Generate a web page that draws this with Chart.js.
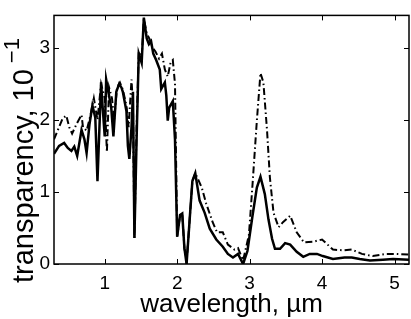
<!DOCTYPE html>
<html>
<head>
<meta charset="utf-8">
<script src="https://cdn.jsdelivr.net/npm/chart.js"></script>
<style>
  html, body { margin: 0; padding: 0; background: #fff; }
  #wrap { width: 411px; height: 319px; }
</style>
</head>
<body>
<div id="wrap"><canvas id="chart"></canvas></div>
<script>
// wavelength (um) and transparency (x10^-1)
const xTicks = [1, 2, 3, 4, 5];
const yTicks = [0, 1, 2, 3];

const solidX = [0.30, 0.37, 0.44, 0.49, 0.54, 0.58, 0.62, 0.68, 0.72, 0.75, 0.79, 0.83, 0.87, 0.90, 0.95, 0.97,
  1.00, 1.02, 1.05, 1.09, 1.12, 1.16, 1.20, 1.23, 1.25, 1.30, 1.32, 1.34, 1.37, 1.39, 1.41, 1.44, 1.47, 1.51,
  1.54, 1.58, 1.61, 1.64, 1.67, 1.71, 1.76, 1.78, 1.83, 1.85, 1.87, 1.89, 1.94, 1.97, 2.00, 2.04, 2.07, 2.10,
  2.13, 2.17, 2.21, 2.25, 2.31, 2.38, 2.45, 2.54, 2.63, 2.70, 2.77, 2.84, 2.91, 2.97, 3.04, 3.10, 3.15, 3.21,
  3.26, 3.31, 3.35, 3.42, 3.49, 3.56, 3.65, 3.74, 3.83, 3.93, 4.01, 4.15, 4.31, 4.41, 4.52, 4.66, 4.84, 4.98, 5.20];
const solidY = [1.53, 1.64, 1.68, 1.61, 1.57, 1.63, 1.50, 1.86, 1.73, 1.54, 1.94, 2.20, 2.03, 1.15, 2.52, 2.20,
  1.77, 2.56, 2.39, 2.17, 1.77, 2.39, 2.50, 2.45, 2.39, 2.12, 1.64, 1.46, 1.90, 2.39, 0.36, 1.73, 2.92, 2.79,
  3.42, 3.13, 3.05, 3.09, 2.92, 2.83, 2.70, 2.43, 2.52, 2.34, 1.99, 2.17, 2.26, 1.73, 0.38, 0.68, 0.70, 0.22,
  0.00, 0.58, 1.15, 1.26, 0.88, 0.71, 0.49, 0.34, 0.24, 0.14, 0.09, 0.14, 0.00, 0.18, 0.67, 1.06, 1.21, 0.97,
  0.62, 0.35, 0.21, 0.21, 0.29, 0.27, 0.17, 0.10, 0.14, 0.14, 0.11, 0.07, 0.09, 0.09, 0.07, 0.05, 0.06, 0.07, 0.06];

const dashX = [0.30, 0.37, 0.42, 0.47, 0.51, 0.55, 0.61, 0.68, 0.70, 0.75, 0.80, 0.85, 0.90, 0.95, 1.00, 1.03,
  1.06, 1.10, 1.13, 1.17, 1.21, 1.25, 1.30, 1.33, 1.37, 1.39, 1.41, 1.44, 1.47, 1.51, 1.54, 1.58, 1.62, 1.66,
  1.70, 1.75, 1.79, 1.83, 1.87, 1.91, 1.94, 1.97, 2.00, 2.04, 2.07, 2.10, 2.13, 2.17, 2.21, 2.25, 2.34, 2.40,
  2.49, 2.55, 2.63, 2.70, 2.79, 2.84, 2.91, 2.99, 3.04, 3.10, 3.15, 3.19, 3.24, 3.28, 3.33, 3.40, 3.46, 3.56,
  3.65, 3.75, 3.88, 4.00, 4.15, 4.29, 4.41, 4.55, 4.70, 4.89, 5.03, 5.20];
const dashY = [1.73, 1.90, 2.02, 2.06, 1.90, 1.81, 1.94, 2.07, 1.90, 1.85, 2.05, 2.30, 2.00, 2.50, 2.30, 1.55,
  2.45, 2.30, 2.00, 2.45, 2.52, 2.42, 2.20, 1.90, 2.56, 2.20, 0.36, 1.90, 2.95, 2.85, 3.40, 3.20, 3.12, 3.00,
  2.95, 2.85, 2.92, 2.70, 2.60, 2.80, 2.83, 2.50, 0.38, 0.68, 0.70, 0.22, 0.02, 0.58, 1.15, 1.26, 1.06, 0.84,
  0.58, 0.44, 0.44, 0.27, 0.20, 0.22, 0.05, 0.40, 1.10, 1.99, 2.65, 2.52, 1.86, 1.20, 0.71, 0.51, 0.58, 0.67,
  0.44, 0.30, 0.31, 0.34, 0.20, 0.19, 0.20, 0.14, 0.11, 0.14, 0.14, 0.13];

function pts(xs, ys) {
  return xs.map((x, i) => ({ x: x, y: ys[i] }));
}

const FONT = "'Liberation Sans', Arial, sans-serif";

// matlab style box, inward ticks on all four sides, axis titles
const framePlugin = {
  id: 'frame',
  afterDraw(chart) {
    const ctx = chart.ctx;
    const a = chart.chartArea;
    const xs = chart.scales.x, ys = chart.scales.y;
    const tl = 5;
    ctx.save();
    ctx.strokeStyle = '#000';
    ctx.lineWidth = 1.5;
    ctx.strokeRect(a.left, a.top, a.right - a.left, a.bottom - a.top);
    ctx.lineWidth = 1;
    ctx.beginPath();
    xTicks.forEach(v => {
      const p = Math.round(xs.getPixelForValue(v)) + 0.5;
      ctx.moveTo(p, a.bottom); ctx.lineTo(p, a.bottom - tl);
      ctx.moveTo(p, a.top); ctx.lineTo(p, a.top + tl);
    });
    yTicks.forEach(v => {
      const p = Math.round(ys.getPixelForValue(v)) + 0.5;
      ctx.moveTo(a.left, p); ctx.lineTo(a.left + tl, p);
      ctx.moveTo(a.right, p); ctx.lineTo(a.right - tl, p);
    });
    ctx.stroke();

    ctx.fillStyle = '#000';
    ctx.font = '26px ' + FONT;
    ctx.textAlign = 'center';
    ctx.textBaseline = 'alphabetic';
    ctx.fillText('wavelength, \u00b5m', (a.left + a.right) / 2, 312);

    // y title with superscript
    const main = 'transparency, 10';
    const sup = '\u22121';
    ctx.font = '29px ' + FONT;
    ctx.textAlign = 'left';
    ctx.translate(33, a.bottom + 19);
    ctx.rotate(-Math.PI / 2);
    ctx.fillText(main, 0, 0);
    const w = ctx.measureText(main).width;
    ctx.font = '22px ' + FONT;
    ctx.fillText(sup, w + 6, -14);
    ctx.restore();
  }
};

new Chart(document.getElementById('chart'), {
  type: 'line',
  data: {
    datasets: [{
      data: pts(dashX, dashY),
      borderColor: '#000',
      borderWidth: 2,
      borderDash: [7, 3, 1.5, 3],
      pointRadius: 0,
      tension: 0,
      fill: false
    }, {
      data: pts(solidX, solidY),
      borderColor: '#000',
      borderWidth: 2.5,
      pointRadius: 0,
      tension: 0,
      fill: false
    }]
  },
  options: {
    responsive: true,
    maintainAspectRatio: false,
    animation: false,
    layout: { padding: { top: 3, right: 2, left: 0, bottom: 0 } },
    plugins: {
      legend: { display: false },
      tooltip: { enabled: false }
    },
    scales: {
      x: {
        type: 'linear',
        min: 0.3,
        max: 5.2,
        border: { display: false },
        grid: { display: false, drawTicks: false },
        afterBuildTicks: s => { s.ticks = xTicks.map(v => ({ value: v })); },
        afterFit: s => { s.height = 55; },
        ticks: { color: '#000', padding: 8, maxRotation: 0, font: { size: 19, family: FONT } }
      },
      y: {
        min: 0,
        max: 3.45,
        border: { display: false },
        grid: { display: false, drawTicks: false },
        afterBuildTicks: s => { s.ticks = yTicks.map(v => ({ value: v })); },
        afterFit: s => { s.width = 54; },
        ticks: { color: '#000', padding: 4, font: { size: 19, family: FONT } }
      }
    }
  },
  plugins: [framePlugin]
});
</script>
</body>
</html>
